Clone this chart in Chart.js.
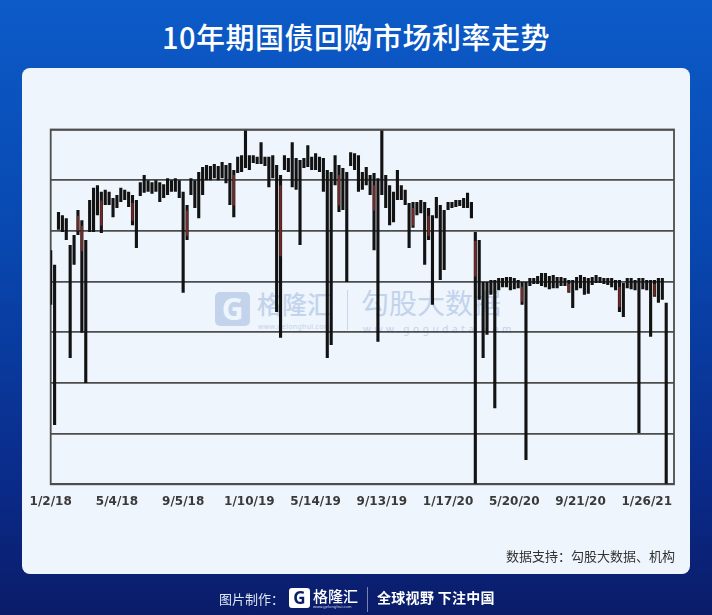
<!DOCTYPE html>
<html lang="zh-CN">
<head>
<meta charset="utf-8">
<title>10年期国债回购市场利率走势</title>
<script src="https://cdn.jsdelivr.net/npm/chart.js@4.4.1/dist/chart.umd.min.js"></script>
<style>
  html, body { margin: 0; padding: 0; }
  body {
    width: 712px; height: 615px; overflow: hidden; position: relative;
    background: linear-gradient(180deg, #0c5bc8 0%, #0847af 40%, #0a2b8a 78%, #0a1c69 100%);
    font-family: "Noto Sans CJK SC", "Noto Sans", sans-serif;
  }
  .title {
    position: absolute; top: 15px; left: 0; width: 712px; text-align: center;
    color: #fff; font-size: 29px; font-weight: 500; letter-spacing: 0.5px;
  }
  .panel {
    position: absolute; left: 22px; top: 68px; width: 668px; height: 506px;
    background: #eef5fd; border-radius: 8px;
  }
  .wm { position: absolute; color: #c3d3ec; }
  .wm-g {
    left: 215px; top: 292px; width: 35px; height: 34px; border-radius: 5px;
    background: #c3d3ec; color: #eef5fd; font: bold 30px/34px "Noto Sans", sans-serif; text-align: center;
  }
  .wm-glh { left: 257px; top: 285px; font-size: 25px; font-weight: 500; }
  .wm-glh-url { left: 258px; top: 322px; font: 7px "Noto Sans", sans-serif; letter-spacing: 0.3px; }
  .wm-sep { left: 347px; top: 290px; width: 1px; height: 40px; background: #c9d7ee; }
  .wm-gg { left: 361px; top: 282px; font-size: 28px; }
  .wm-gg-url { left: 363px; top: 322px; font: 10px "Noto Sans", sans-serif; letter-spacing: 3.6px; }
  #chart { position: absolute; left: 0; top: 0; }
  .source { position: absolute; right: 37px; top: 546px; font-size: 13px; color: #333; }
  .foot { position: absolute; top: 587px; height: 25px; color: #fff; }
  .foot-label { left: 219px; top: 589px; font-size: 13px; color: #dde5f5; }
  .foot-g {
    left: 289px; top: 588px; width: 21px; height: 20px; border-radius: 3px;
    background: #fff; color: #0a1c69; font: bold 17px/20px "Noto Sans", sans-serif; text-align: center;
  }
  .foot-glh { left: 313px; top: 585px; font-size: 15px; font-weight: 500; }
  .foot-url { left: 313px; top: 604px; font: 4px "Noto Sans", sans-serif; color: #cfd8ee; }
  .foot-sep { left: 367px; top: 587px; width: 1px; height: 25px; background: rgba(255,255,255,0.45); }
  .foot-slogan { left: 377px; top: 587px; font-size: 14px; font-weight: bold; letter-spacing: 0.3px; }
</style>
</head>
<body>
<div class="title">10年期国债回购市场利率走势</div>
<div class="panel"></div>

<div class="wm wm-g">G</div>
<div class="wm wm-glh">格隆汇</div>
<div class="wm wm-glh-url">www.gelonghui.com</div>
<div class="wm wm-sep"></div>
<div class="wm wm-gg">勾股大数据</div>
<div class="wm wm-gg-url">www.gogudata.com</div>

<canvas id="chart" width="712" height="615"></canvas>

<div class="source">数据支持：勾股大数据、机构</div>

<div class="foot foot-label">图片制作：</div>
<div class="foot foot-g">G</div>
<div class="foot foot-glh">格隆汇</div>
<div class="foot foot-url">www.gelonghui.com</div>
<div class="foot foot-sep"></div>
<div class="foot foot-slogan">全球视野 下注中国</div>

<script>
// x-axis labels, one every 17 samples (about 85 trading days)
const tickLabels = ["1/2/18", "5/4/18", "9/5/18", "1/10/19", "5/14/19",
                    "9/13/19", "1/17/20", "5/20/20", "9/21/20", "1/26/21"];
const tickEvery = 17;

// high / low of each sample (no y-axis values shown)
const highs = [
  4.62, 4.33, 5.37, 5.31, 5.25, 4.72, 4.92, 5.41, 5.21, 4.82,
  5.61, 5.85, 5.90, 5.77, 5.81, 5.77, 5.65, 5.71, 5.85, 5.81,
  5.77, 5.71, 5.61, 5.96, 6.10, 6.00, 5.96, 6.00, 5.96, 5.92,
  6.04, 6.00, 6.04, 6.00, 5.77, 5.51, 6.04, 6.00, 6.16, 6.26,
  6.30, 6.28, 6.32, 6.28, 6.36, 6.30, 6.34, 6.20, 6.46, 6.49,
  6.98, 6.49, 6.49, 6.46, 6.75, 6.46, 6.46, 6.49, 6.30, 6.10,
  6.49, 6.44, 6.75, 6.44, 6.40, 6.44, 6.69, 6.46, 6.53, 6.46,
  6.44, 6.20, 6.16, 6.49, 6.30, 6.24, 6.16, 6.55, 6.53, 6.49,
  6.16, 6.26, 6.10, 6.14, 6.04, 6.98, 6.10, 5.90, 5.77, 6.20,
  5.90, 5.81, 5.55, 5.57, 5.57, 5.61, 5.57, 5.45, 5.31, 5.67,
  5.51, 5.41, 5.57, 5.57, 5.61, 5.61, 5.65, 5.75, 5.57, 4.98,
  4.82, 3.99, 3.99, 4.03, 4.03, 4.07, 4.07, 4.09, 4.09, 4.07,
  4.03, 3.99, 3.99, 4.07, 4.07, 4.11, 4.17, 4.17, 4.11, 4.13,
  4.09, 4.09, 4.07, 4.03, 4.03, 4.09, 4.13, 4.09, 4.07, 4.09,
  4.13, 4.09, 4.07, 4.07, 4.07, 4.03, 4.03, 3.97, 4.07, 4.07,
  4.03, 4.07, 4.07, 4.03, 4.03, 4.03, 4.07, 4.07, 3.58, null, null
];
const lows = [
  3.54, 1.17, 5.02, 4.98, 4.82, 2.49, 4.33, 4.92, 2.99, 2.00,
  4.98, 4.98, 5.31, 4.96, 5.51, 5.51, 5.27, 5.45, 5.57, 5.61,
  5.47, 5.11, 4.66, 5.69, 5.75, 5.77, 5.73, 5.77, 5.57, 5.65,
  5.71, 5.77, 5.77, 5.65, 3.78, 4.82, 5.71, 5.45, 5.25, 5.71,
  6.00, 6.00, 6.04, 6.00, 6.04, 5.94, 5.51, 5.27, 6.14, 6.16,
  6.24, 6.20, 6.34, 6.32, 6.32, 6.28, 5.86, 6.04, 3.40, 2.89,
  6.20, 6.16, 5.86, 5.81, 4.72, 6.24, 6.26, 6.20, 6.20, 6.16,
  5.77, 2.49, 2.75, 5.90, 5.37, 5.41, 3.99, 6.28, 6.20, 5.77,
  5.81, 5.90, 5.71, 4.62, 2.81, 5.71, 5.45, 5.11, 5.17, 5.61,
  5.61, 5.51, 4.66, 5.06, 5.31, 5.35, 4.33, 4.82, 3.54, 5.25,
  4.03, 4.23, 5.41, 5.45, 5.47, 5.49, 5.45, 5.45, 5.25, 0.01,
  3.64, 2.49, 2.95, 3.74, 1.50, 3.83, 3.89, 3.89, 3.83, 3.85,
  3.87, 3.54, 0.48, 3.91, 3.95, 3.95, 3.91, 3.89, 3.85, 3.87,
  3.87, 3.91, 3.91, 3.78, 3.48, 3.83, 3.87, 3.74, 3.76, 3.93,
  3.97, 3.97, 3.95, 3.93, 3.89, 3.83, 3.40, 3.30, 3.87, 3.85,
  3.83, 1.01, 3.85, 3.83, 2.91, 3.70, 3.58, 3.64, 0.01, null, null
];

// falling-day bodies (the dark red parts)
const bodyIdx  = [7, 8, 13, 21, 35, 47, 59, 74, 83, 93, 97, 109, 121, 133, 146, 155];
const bodyLow  = [5.00, 4.60, 5.10, 5.20, 4.90, 5.50, 4.50, 5.50, 5.40, 5.10, 4.90, 4.10, 3.60, 3.80, 3.50, 3.72];
const bodyHigh = [5.30, 5.10, 5.60, 5.55, 5.40, 6.10, 5.90, 6.10, 5.90, 5.45, 5.30, 4.80, 3.90, 3.95, 3.90, 3.95];

const labels = highs.map((_, i) => (i % tickEvery === 0 ? tickLabels[i / tickEvery] : ""));
const ranges = highs.map((h, i) => (h === null ? null : [lows[i], h]));
const bodies = highs.map(() => null);
bodyIdx.forEach((idx, k) => { bodies[idx] = [bodyLow[k], bodyHigh[k]]; });

const gridColor = "#4d4d4d";

// frame round the plot area
const plotFrame = {
  id: "plotFrame",
  beforeDatasetsDraw(chart) {
    const { ctx, chartArea: a } = chart;
    ctx.save();
    ctx.strokeStyle = gridColor;
    ctx.lineWidth = 1.8;
    ctx.strokeRect(a.left, a.top, a.right - a.left, a.bottom - a.top);
    ctx.restore();
  }
};

new Chart(document.getElementById("chart"), {
  type: "bar",
  data: {
    labels: labels,
    datasets: [
      {
        label: "body",
        data: bodies,
        backgroundColor: "#6e2a26",
        barPercentage: 0.6,
        categoryPercentage: 1,
        grouped: false,
        order: 1
      },
      {
        label: "range",
        data: ranges,
        backgroundColor: "#121212",
        barPercentage: 0.8,
        categoryPercentage: 1,
        grouped: false,
        order: 2
      }
    ]
  },
  options: {
    responsive: false,
    animation: false,
    layout: { padding: { left: 50.7, right: 38, top: 129.5, bottom: 100.7 } },
    plugins: { legend: { display: false }, tooltip: { enabled: false } },
    scales: {
      x: {
        type: "category",
        offset: false,
        grid: { display: false, drawTicks: false },
        border: { display: false },
        ticks: {
          autoSkip: false,
          maxRotation: 0,
          padding: 10,
          color: "#3a3a3a",
          font: { family: "DejaVu Sans", size: 12, weight: "bold" }
        },
        afterFit: (scale) => { scale.height = 30; }
      },
      y: {
        min: 0,
        max: 7,
        ticks: { display: false, stepSize: 1 },
        grid: { color: gridColor, lineWidth: 1.8, drawTicks: false },
        border: { display: false },
        afterFit: (scale) => { scale.width = 0; }
      }
    }
  },
  plugins: [plotFrame]
});
</script>
</body>
</html>
